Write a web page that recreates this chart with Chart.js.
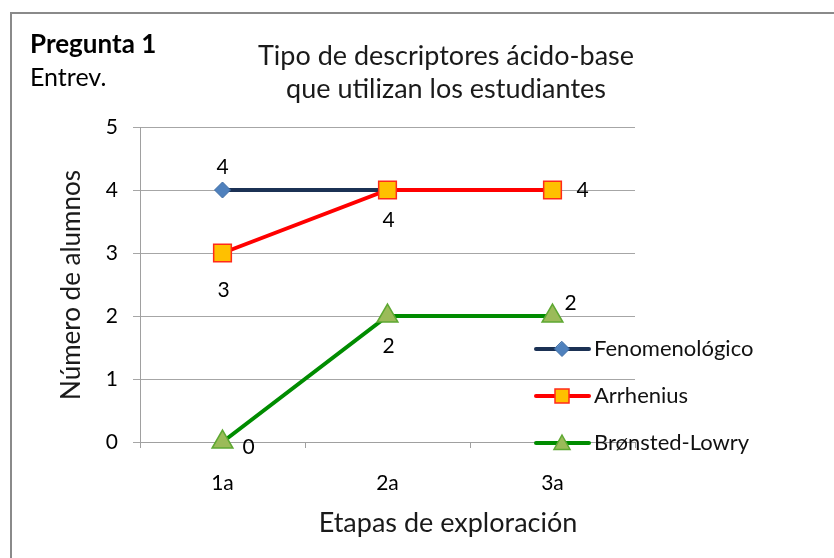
<!DOCTYPE html>
<html>
<head>
<meta charset="utf-8">
<script src="https://cdn.jsdelivr.net/npm/chart.js@4/dist/chart.umd.min.js"></script>
<style>
  html, body { margin: 0; padding: 0; background: #fff; }
  #wrap { width: 834px; height: 558px; position: relative; }
</style>
</head>
<body>
<div id="wrap"><canvas id="c" width="834" height="558"></canvas></div>
<script>
// Stages of the interview and number of students using each descriptor
const etapas = ['1a', '2a', '3a'];
const fenomenologico = [4, 4, 4];
const arrhenius = [3, 4, 4];
const bronstedLowry = [0, 2, 2];
const yTicks = [0, 1, 2, 3, 4, 5];

// Where each value label sits relative to its point
const fenLabelPos = ['above', null, null];
const arrLabelPos = ['belowFar', 'below', 'right'];
const broLabelPos = ['rightLow', 'below', 'rightHigh'];

const FONT = 'Lato, "Open Sans", sans-serif';

const labelOffsets = {
  above:     [0, -23],
  below:     [1, 30],
  belowFar:  [1, 37],
  right:     [30, 0],
  rightLow:  [26, 5],
  rightHigh: [18, -13]
};

const frameAndText = {
  id: 'frameAndText',
  beforeDraw(chart) {
    const ctx = chart.ctx;
    ctx.save();
    ctx.fillStyle = '#ffffff';
    ctx.fillRect(0, 0, chart.width, chart.height);
    ctx.strokeStyle = '#8a8a8a';
    ctx.lineWidth = 2;
    ctx.strokeRect(11, 13, chart.width + 20, chart.height + 20);
    ctx.restore();
  },
  afterDraw(chart) {
    const ctx = chart.ctx;
    ctx.save();
    ctx.fillStyle = '#000';
    ctx.textBaseline = 'middle';
    // Corner caption
    ctx.textAlign = 'left';
    ctx.font = 'bold 26px ' + FONT;
    ctx.fillText('Pregunta 1', 30, 45);
    ctx.font = '25px ' + FONT;
    ctx.fillText('Entrev.', 30, 78);
    // Chart title
    ctx.textAlign = 'center';
    ctx.font = '27px ' + FONT;
    ctx.fillStyle = '#1a1a1a';
    ctx.fillText('Tipo de descriptores ácido-base', 446, 56);
    ctx.fillText('que utilizan los estudiantes', 446, 89);
    // Axis titles
    ctx.fillText('Etapas de exploración', 448, 523);
    ctx.save();
    ctx.translate(72, 285);
    ctx.rotate(-Math.PI / 2);
    ctx.font = '26px ' + FONT;
    ctx.fillText('Número de alumnos', 0, 0);
    ctx.restore();

    // Legend drawn inside the plot, to the right
    const rows = [349, 396, 443];
    const legendOrder = [0, 1, 2];
    legendOrder.forEach((i, k) => {
      const ds = chart.data.datasets[i];
      const y = rows[k];
      ctx.strokeStyle = ds.borderColor;
      ctx.lineWidth = ds.borderWidth;
      ctx.lineCap = 'round';
      ctx.beginPath();
      ctx.moveTo(536, y);
      ctx.lineTo(589, y);
      ctx.stroke();
      ctx.fillStyle = ds.pointBackgroundColor;
      ctx.strokeStyle = ds.pointBorderColor;
      ctx.lineWidth = ds.pointBorderWidth;
      ctx.beginPath();
      const r = ds.legendRadius;
      if (ds.pointStyle === 'rectRot') {
        ctx.moveTo(562, y - r); ctx.lineTo(562 + r, y); ctx.lineTo(562, y + r); ctx.lineTo(562 - r, y); ctx.closePath();
      } else if (ds.pointStyle === 'rect') {
        ctx.rect(562 - r, y - r, 2 * r, 2 * r);
      } else {
        ctx.moveTo(562, y - r); ctx.lineTo(562 + r, y + r * 0.8); ctx.lineTo(562 - r, y + r * 0.8); ctx.closePath();
      }
      ctx.fill();
      ctx.stroke();
      ctx.fillStyle = '#111';
      ctx.textAlign = 'left';
      ctx.font = '22px ' + FONT;
      ctx.fillText(ds.label, 594, y);
    });
    ctx.restore();
  },
  afterDatasetsDraw(chart) {
    const ctx = chart.ctx;
    ctx.save();
    ctx.fillStyle = '#000';
    ctx.font = '21px ' + FONT;
    ctx.textAlign = 'center';
    ctx.textBaseline = 'middle';
    chart.data.datasets.forEach((ds, i) => {
      const meta = chart.getDatasetMeta(i);
      meta.data.forEach((pt, j) => {
        const pos = ds.labelPos[j];
        if (!pos) return;
        const [dx, dy] = labelOffsets[pos];
        ctx.fillText(String(ds.data[j]), pt.x + dx, pt.y + dy);
      });
    });
    ctx.restore();
  }
};

new Chart(document.getElementById('c'), {
  type: 'line',
  data: {
    labels: etapas,
    datasets: [
      {
        label: 'Fenomenológico',
        data: fenomenologico,
        labelPos: fenLabelPos,
        order: 3,
        clip: false,
        borderColor: '#1b3154',
        borderWidth: 4,
        pointStyle: 'rectRot',
        pointRadius: 8,
        legendRadius: 7.5,
        pointBackgroundColor: '#4f81bd',
        pointBorderColor: '#3f6ea6',
        pointBorderWidth: 1
      },
      {
        label: 'Arrhenius',
        data: arrhenius,
        labelPos: arrLabelPos,
        order: 2,
        clip: false,
        borderColor: '#ff0000',
        borderWidth: 4,
        pointStyle: 'rect',
        pointRadius: 12.5,
        legendRadius: 7,
        pointBackgroundColor: '#ffc000',
        pointBorderColor: '#ff2a1a',
        pointBorderWidth: 1.5
      },
      {
        label: 'Brønsted-Lowry',
        data: bronstedLowry,
        labelPos: broLabelPos,
        order: 1,
        clip: false,
        borderColor: '#008c00',
        borderWidth: 4,
        pointStyle: 'triangle',
        pointRadius: 12,
        legendRadius: 8,
        pointBackgroundColor: '#9bbb59',
        pointBorderColor: '#5ea832',
        pointBorderWidth: 1.5
      }
    ]
  },
  options: {
    responsive: false,
    animation: false,
    events: [],
    layout: { padding: { top: 127, right: 199, bottom: 0, left: 0 } },
    plugins: {
      legend: { display: false },
      title: { display: false },
      tooltip: { enabled: false }
    },
    elements: { line: { tension: 0 } },
    scales: {
      x: {
        offset: true,
        grid: { offset: true, drawOnChartArea: false, color: '#a0a0a0', tickLength: 6 },
        border: { color: '#a0a0a0', width: 1 },
        ticks: { color: '#000', font: { family: FONT, size: 21 }, padding: 23 },
        afterFit(scale) { scale.height = 116; }
      },
      y: {
        min: 0,
        max: 5,
        afterBuildTicks(scale) { scale.ticks = yTicks.map(v => ({ value: v })); },
        grid: { color: '#a6a6a6', tickLength: 7 },
        border: { color: '#a0a0a0', width: 1 },
        ticks: { color: '#000', font: { family: FONT, size: 21 }, padding: 15 },
        afterFit(scale) { scale.width = 140; }
      }
    }
  },
  plugins: [frameAndText]
});
</script>
</body>
</html>
